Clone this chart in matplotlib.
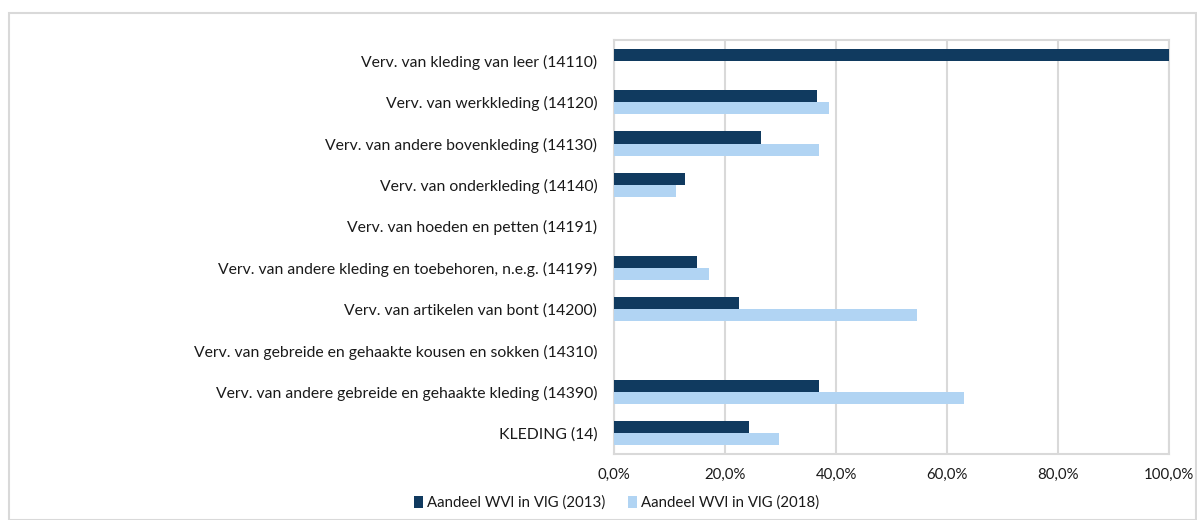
import numpy as np
import matplotlib.pyplot as plt
from matplotlib.patches import Rectangle
from matplotlib.ticker import FuncFormatter

# Gegevens (aandeel in %)
categorieen = [
    "Verv. van kleding van leer (14110)",
    "Verv. van werkkleding (14120)",
    "Verv. van andere bovenkleding (14130)",
    "Verv. van onderkleding (14140)",
    "Verv. van hoeden en petten (14191)",
    "Verv. van andere kleding en toebehoren, n.e.g. (14199)",
    "Verv. van artikelen van bont (14200)",
    "Verv. van gebreide en gehaakte kousen en sokken (14310)",
    "Verv. van andere gebreide en gehaakte kleding (14390)",
    "KLEDING (14)",
]
aandeel_2013 = [100.0, 36.6, 26.5, 12.8, 0.0, 15.0, 22.6, 0.0, 37.0, 24.4]
aandeel_2018 = [0.0, 38.7, 36.9, 11.1, 0.0, 17.1, 54.6, 0.0, 63.1, 29.8]
xticks = [0, 20, 40, 60, 80, 100]

donker = "#103a5f"
licht = "#b1d4f3"
grijs = "#d9d9d9"

plt.rcParams['font.family'] = ['Lato', 'DejaVu Sans']

fig = plt.figure(figsize=(11.97, 5.2), dpi=100)
ax = fig.add_axes([614/1197, 1-454/520, (1169-614)/1197, (454-40)/520])

y = np.arange(len(categorieen))
h = 0.29
ax.barh(y - h/2, aandeel_2013, height=h, color=donker, label="Aandeel WVl in VlG (2013)", zorder=3)
ax.barh(y + h/2, aandeel_2018, height=h, color=licht, label="Aandeel WVl in VlG (2018)", zorder=3)

ax.set_ylim(len(categorieen) - 0.5, -0.5)
ax.set_xlim(0, 100)
ax.set_yticks(y)
ax.set_yticklabels(categorieen, fontsize=11.3, color="#1a1a1a")
ax.set_xticks(xticks)
ax.xaxis.set_major_formatter(FuncFormatter(lambda v, p: f"{v:.1f}%".replace(".", ",")))
ax.tick_params(axis='x', length=0, pad=10, labelsize=10.8, labelcolor="#1a1a1a")
ax.tick_params(axis='y', length=0, pad=12)
ax.grid(axis='x', color=grijs, linewidth=1.5, zorder=0)
for s in ax.spines.values():
    s.set_color(grijs)
    s.set_linewidth(1.5)

fig.legend(loc='center', bbox_to_anchor=(0.515, 1-503/520), ncol=2, frameon=False,
           fontsize=10.8, handlelength=0.6, handleheight=0.8, handletextpad=0.3,
           columnspacing=1.5, labelcolor="#1a1a1a")

# kader rond de grafiek
fig.patches.append(Rectangle((9/1197, 0), 1 - 10/1197, 1 - 13/520, transform=fig.transFigure,
                             fill=False, edgecolor=grijs, linewidth=1.5))

fig.savefig("out.png", dpi=100)
